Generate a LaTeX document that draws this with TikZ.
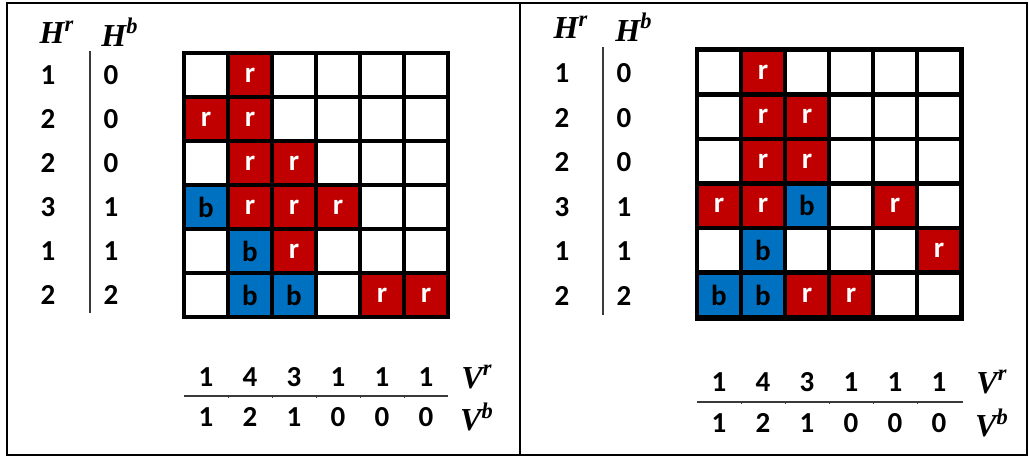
\documentclass[tikz,border=0pt]{standalone}
\usepackage{fontspec}
\setmainfont{Carlito}
\newfontfamily\hfont{Liberation Serif}
\usetikzlibrary{positioning}
\definecolor{cellred}{HTML}{C00000}
\definecolor{cellblue}{HTML}{0070C0}
\definecolor{rulegray}{HTML}{3A3A3A}

\tikzset{
  num/.style={font=\fontsize{14.5}{14.5}\selectfont\bfseries, inner sep=0pt},
  hlab/.style={font=\fontsize{16}{16}\selectfont\hfont\bfseries\itshape, inner sep=0pt},
  cellw/.style={fill=white, minimum size=20pt, inner sep=0pt},
  cellr/.style={cellw, fill=cellred, text=white, font=\fontsize{14.5}{14.5}\selectfont\bfseries},
  cellb/.style={cellw, fill=cellblue, text=black, font=\fontsize{14.5}{14.5}\selectfont\bfseries},
  sumrule/.style={rulegray, line width=0.75pt}
}

\begin{document}
\begin{tikzpicture}[x=0.5pt, y=-0.5pt]
    \useasboundingbox (0,0) rectangle (1029,457);

    % Outer boxes
    \draw[line width=1.4pt] (7,3) rectangle (520,455);
    \draw[line width=1.4pt] (520,3) rectangle (1027,455);

    % ---------------- Left panel ----------------
    \node[hlab] (LHr) at (57,32) {H\textsuperscript{r}};
    \node[hlab] (LHb) at (120,32) {H\textsuperscript{b}};
    \foreach \hr/\hb [count=\i] in {1/0, 2/0, 2/0, 3/1, 1/1, 2/2} {
        \node[num] (LHr-\i) at (48, {75+44*(\i-1)}) {\hr};
        \node[num] (LHb-\i) at (111, {75+44*(\i-1)}) {\hb};
    }
    \coordinate (LHtop) at (90,51);
    \coordinate (LHbot) at (90,313);
    \draw[sumrule] (LHtop) -- (LHbot);

    % Grid
    \fill[black] (182,51) rectangle (450,319);
    \foreach \i in {1,...,6}
        \foreach \j in {1,...,6}
            \node[cellw] (L-\i-\j) at ({206+44*(\j-1)}, {75+44*(\i-1)}) {};
    \foreach \i/\j in {1/2, 2/1, 2/2, 3/2, 3/3, 4/2, 4/3, 4/4, 5/3, 6/5, 6/6}
        \node[cellr] (Lr-\i-\j) at ({206+44*(\j-1)}, {75+44*(\i-1)}) {r};
    \foreach \i/\j in {4/1, 5/2, 6/2, 6/3}
        \node[cellb] (Lb-\i-\j) at ({206+44*(\j-1)}, {75+44*(\i-1)}) {b};

    % Column sums
    \foreach \vr/\vb [count=\j] in {1/1, 4/2, 3/1, 1/0, 1/0, 1/0} {
        \node[num] (LVr-\j) at ({206+44*(\j-1)}, 377) {\vr};
        \node[num] (LVb-\j) at ({206+44*(\j-1)}, 417) {\vb};
    }
    \node[hlab] (LVr) at (477,377) {V\textsuperscript{r}};
    \node[hlab] (LVb) at (477,417) {V\textsuperscript{b}};
    \coordinate (LVleft) at (184,396);
    \coordinate (LVright) at (448,396);
    \draw[sumrule] (LVleft) -- (LVright);
    \foreach \j in {1,...,5}
        \draw[rulegray, line width=0.5pt] ({228+44*(\j-1)}, 396) -- ++(0,2);

    % ---------------- Right panel ----------------
    \node[hlab] (RHr) at (571,27) {H\textsuperscript{r}};
    \node[hlab] (RHb) at (634,27) {H\textsuperscript{b}};
    \foreach \hr/\hb [count=\i] in {1/0, 2/0, 2/0, 3/1, 1/1, 2/2} {
        \node[num] (RHr-\i) at (562, {73+44.6*(\i-1)}) {\hr};
        \node[num] (RHb-\i) at (624, {73+44.6*(\i-1)}) {\hb};
    }
    \coordinate (RHtop) at (603,47);
    \coordinate (RHbot) at (603,315);
    \draw[sumrule] (RHtop) -- (RHbot);

    % Grid
    \fill[black] (695,47) rectangle (964,321);
    \foreach \i in {1,...,6}
        \foreach \j in {1,...,6}
            \node[cellw] (R-\i-\j) at ({719+44*(\j-1)}, {72+44.6*(\i-1)}) {};
    \foreach \i/\j in {1/2, 2/2, 2/3, 3/2, 3/3, 4/1, 4/2, 4/5, 5/6, 6/3, 6/4}
        \node[cellr] (Rr-\i-\j) at ({719+44*(\j-1)}, {72+44.6*(\i-1)}) {r};
    \foreach \i/\j in {4/3, 5/2, 6/1, 6/2}
        \node[cellb] (Rb-\i-\j) at ({719+44*(\j-1)}, {72+44.6*(\i-1)}) {b};

    % Column sums
    \foreach \vr/\vb [count=\j] in {1/1, 4/2, 3/1, 1/0, 1/0, 1/0} {
        \node[num] (RVr-\j) at ({719+44*(\j-1)}, 382) {\vr};
        \node[num] (RVb-\j) at ({719+44*(\j-1)}, 423) {\vb};
    }
    \node[hlab] (RVr) at (992,382) {V\textsuperscript{r}};
    \node[hlab] (RVb) at (992,423) {V\textsuperscript{b}};
    \coordinate (RVleft) at (697,402);
    \coordinate (RVright) at (963,402);
    \draw[sumrule] (RVleft) -- (RVright);
    \foreach \j in {1,...,5}
        \draw[rulegray, line width=0.5pt] ({741+44*(\j-1)}, 402) -- ++(0,2);

\end{tikzpicture}
\end{document}
